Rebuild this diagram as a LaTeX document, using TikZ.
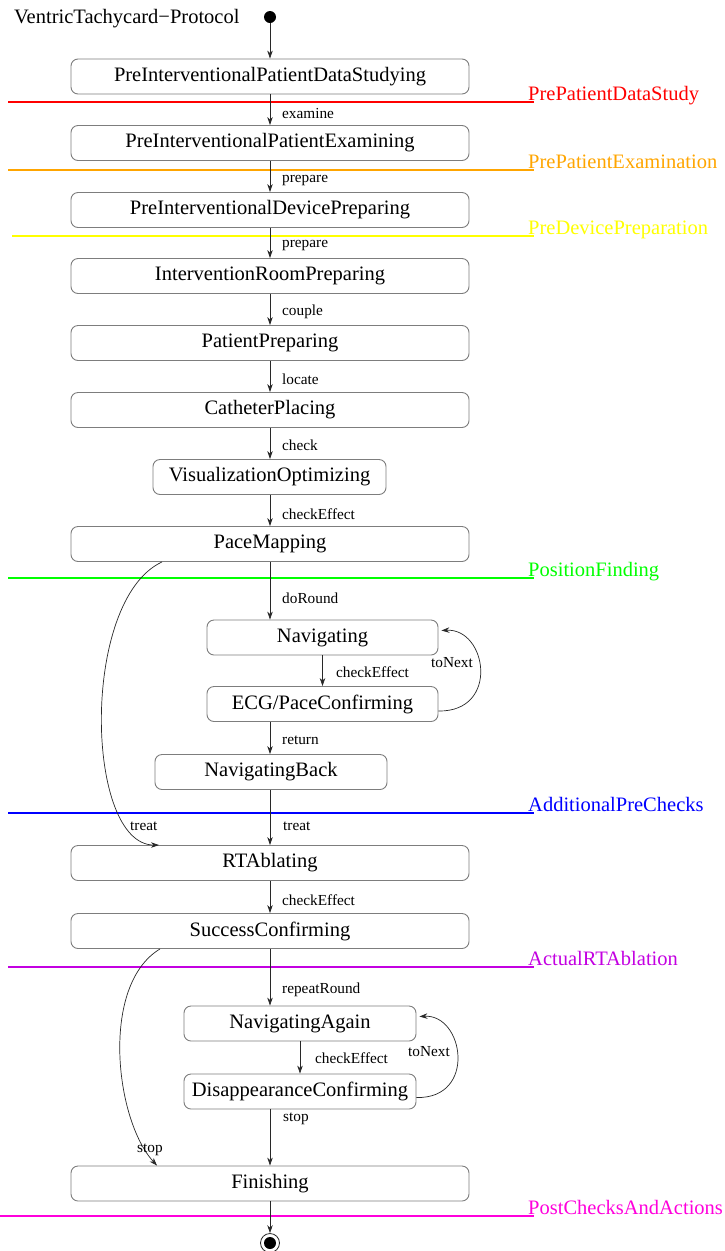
\documentclass[tikz,border=0pt]{standalone}
\usepackage{fontspec}
\setmainfont{Liberation Serif}
\usetikzlibrary{arrows.meta}
\definecolor{bord}{RGB}{125,125,125}
\definecolor{edgec}{RGB}{40,40,40}
\definecolor{cred}{RGB}{255,0,0}
\definecolor{corange}{RGB}{255,165,0}
\definecolor{cyellow}{RGB}{255,255,0}
\definecolor{cgreen}{RGB}{0,255,0}
\definecolor{cblue}{RGB}{0,0,255}
\definecolor{cpurple}{RGB}{195,0,225}
\definecolor{cmagenta}{RGB}{255,0,220}
\begin{document}
\begin{tikzpicture}[x=1pt,y=-1pt,
  state/.style={draw=bord, line width=0.9pt, rounded corners=7pt, minimum height=35pt, inner sep=0pt, font=\fontsize{20.5}{24}\selectfont},
  big/.style={state, minimum width=398pt},
  lbl/.style={font=\fontsize{15.3}{17}\selectfont, inner sep=0pt, anchor=west},
  tr/.style={draw=edgec, line width=0.7pt, -{Stealth[length=8pt,width=5.5pt]}},
  sepline/.style={line width=2.5pt},
  seplbl/.style={font=\fontsize{20.5}{24}\selectfont, anchor=base west, inner sep=0pt}]
\useasboundingbox (0,0) rectangle (725,1251);

% title and pseudo-states
\node[anchor=west, inner sep=0pt, font=\fontsize{20.5}{24}\selectfont] (title) at (14,19) {VentricTachycard−Protocol};
\node[circle, fill=black, inner sep=0pt, minimum size=12pt] (init) at (270,17) {};
\node[circle, draw=edgec, line width=0.8pt, inner sep=0pt, minimum size=19pt] (final) at (270,1243) {};
\node[circle, fill=black, inner sep=0pt, minimum size=12pt] (finaldot) at (final) {};

% states
\node[big] (s1) at (270,76.5) {PreInterventionalPatientDataStudying};
\node[big] (s2) at (270,143) {PreInterventionalPatientExamining};
\node[big] (s3) at (270,210) {PreInterventionalDevicePreparing};
\node[big] (s4) at (270,276) {InterventionRoomPreparing};
\node[big] (s5) at (270,343) {PatientPreparing};
\node[big] (s6) at (270,410) {CatheterPlacing};
\node[state, minimum width=233pt] (s7) at (269.5,477) {VisualizationOptimizing};
\node[big] (s8) at (270,544) {PaceMapping};
\node[state, minimum width=231pt] (nav) at (322.5,637.5) {Navigating};
\node[state, minimum width=231pt] (ecg) at (322.5,704) {ECG/PaceConfirming};
\node[state, minimum width=232pt] (nb) at (271,772) {NavigatingBack};
\node[big] (rt) at (270,863) {RTAblating};
\node[big] (sc) at (270,931) {SuccessConfirming};
\node[state, minimum width=232pt] (na) at (300,1023.5) {NavigatingAgain};
\node[state, minimum width=232pt] (dc) at (300,1091.5) {DisappearanceConfirming};
\node[big] (fin) at (270,1183.5) {Finishing};

% separator lines
\draw[sepline, cred] (8,102) -- (534,102);
\node[seplbl, text=cred] (p1) at (528,100.5) {PrePatientDataStudy};
\draw[sepline, corange] (8,170) -- (534,170);
\node[seplbl, text=corange] (p2) at (528,168.5) {PrePatientExamination};
\draw[sepline, cyellow] (12,236) -- (534,236);
\node[seplbl, text=cyellow] (p3) at (528,234.5) {PreDevicePreparation};
\draw[sepline, cgreen] (8,578) -- (534,578);
\node[seplbl, text=cgreen] (p4) at (528,576.5) {PositionFinding};
\draw[sepline, cblue] (8,813) -- (534,813);
\node[seplbl, text=cblue] (p5) at (528,811.5) {AdditionalPreChecks};
\draw[sepline, cpurple] (8,967) -- (534,967);
\node[seplbl, text=cpurple] (p6) at (528,965.5) {ActualRTAblation};
\draw[sepline, cmagenta] (0,1216) -- (534,1216);
\node[seplbl, text=cmagenta] (p7) at (528,1214.5) {PostChecksAndActions};

% transitions
\draw[tr] (init) -- (s1);
\draw[tr] (s1) -- (s2);
\draw[tr] (s2) -- (s3);
\draw[tr] (s3) -- (s4);
\draw[tr] (s4) -- (s5);
\draw[tr] (s5) -- (s6);
\draw[tr] (s6.south) -- (s6.south |- s7.north);
\draw[tr] (s8.south |- s7.south) -- (s8.north);
\draw[tr] (s8.south) -- (s8.south |- nav.north);
\draw[tr] (nav) -- (ecg);
\draw[tr] (s8.south |- ecg.south) -- (s8.south |- nb.north);
\draw[tr] (rt.north |- nb.south) -- (rt.north);
\draw[tr] (rt) -- (sc);
\draw[tr] (sc.south) -- (sc.south |- na.north);
\draw[tr] (na) -- (dc);
\draw[tr] (fin.north |- dc.south) -- (fin.north);
\draw[tr] (fin) -- (final);

% curved transitions
\draw[tr] ([xshift=-108pt]s8.south) .. controls (80,600) and (85,845) .. ([xshift=-111pt]rt.north);
\draw[tr] ([xshift=-110pt]sc.south) .. controls (100,985) and (115,1120) .. ([xshift=-113pt]fin.north);
\draw[tr] ([yshift=-7pt]ecg.east) .. controls (500,712) and (487,628) .. ([xshift=3pt,yshift=7pt]nav.east);
\draw[tr] ([yshift=-6pt]dc.east) .. controls (477,1099) and (464,1014) .. ([xshift=3pt,yshift=7pt]na.east);

% labels
\node[lbl] (l1) at (282,114) {examine};
\node[lbl] (l2) at (282,181) {prepare};
\node[lbl] (l3) at (282,246) {prepare};
\node[lbl] (l4) at (282,312) {couple};
\node[lbl] (l5) at (282,379) {locate};
\node[lbl] (l6) at (282,445) {check};
\node[lbl] (l7) at (282,514) {checkEffect};
\node[lbl] (l8) at (282,598) {doRound};
\node[lbl] (l9) at (336,672) {checkEffect};
\node[lbl] (l10) at (431,663) {toNext};
\node[lbl] (l11) at (282,740) {return};
\node[lbl] (l12) at (283,826) {treat};
\node[lbl] (l13) at (130,826) {treat};
\node[lbl] (l14) at (282,900) {checkEffect};
\node[lbl] (l15) at (282,990) {repeatRound};
\node[lbl] (l16) at (315,1058) {checkEffect};
\node[lbl] (l17) at (408,1052) {toNext};
\node[lbl] (l18) at (283,1119) {stop};
\node[lbl] (l19) at (137,1150) {stop};
\end{tikzpicture}
\end{document}
